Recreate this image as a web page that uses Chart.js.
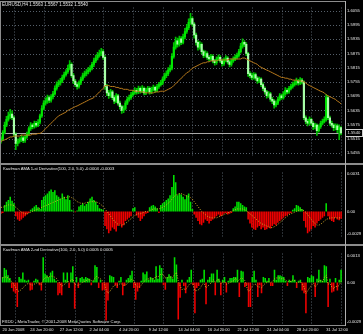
<!DOCTYPE html>
<html><head><meta charset="utf-8">
<script src="https://cdn.jsdelivr.net/npm/chart.js@4.4.0/dist/chart.umd.min.js"></script>
<style>
html,body{margin:0;padding:0;background:#000;}
#wrap{position:relative;width:363px;height:334px;background:#000;overflow:hidden;}
canvas{position:absolute;left:0;}
.t{position:absolute;color:#e6e6e6;font-family:"Liberation Sans",Arial,sans-serif;white-space:nowrap;line-height:1;}
.ln{position:absolute;background:#8c8c8c;}
</style></head><body>
<div id="wrap">
<canvas id="c1" style="top:0;width:363px;height:163px" width="363" height="163"></canvas>
<canvas id="c2" style="top:165px;width:363px;height:79px" width="363" height="79"></canvas>
<canvas id="c3" style="top:246px;width:363px;height:88px" width="363" height="88"></canvas>
<div class="ln" style="left:0;top:1px;width:345px;height:1px"></div>
<div class="ln" style="left:0;top:1px;width:1px;height:325px"></div>
<div class="ln" style="left:0;top:163px;width:363px;height:2px"></div>
<div class="ln" style="left:0;top:244px;width:363px;height:2px"></div>
<div class="ln" style="left:0;top:325px;width:346px;height:1px"></div>
<div class="ln" style="left:345px;top:1px;width:1px;height:325px;background:#b0b0b0"></div>
<div class="t" style="left:2px;top:2.5px;font-size:4.5px">EURUSD,H4 1.5563 1.5567 1.5532 1.5540</div>
<div class="t" style="left:3px;top:166.5px;font-size:4.2px">Kaufman AMA 1-st Derivative(100, 2.0, 5.0) -0.0004 -0.0003</div>
<div class="t" style="left:3px;top:248px;font-size:4.2px">Kaufman AMA 2-nd Derivative(100, 2.0, 5.0) 0.0005 0.0005</div>
<div class="t" style="left:2px;top:319.5px;font-size:4.3px">FXDD - MetaTrader, © 2001-2008 MetaQuotes Software Corp.</div>
</div>
<script>
// ---------- data ----------
const TIME_LABELS = ['20 Jun 2008','24 Jun 20:00','27 Jun 12:00','2 Jul 04:00','4 Jul 20:00','9 Jul 12:00','14 Jul 04:00','16 Jul 20:00','21 Jul 12:00','24 Jul 04:00','28 Jul 20:00','31 Jul 12:00'];
const TIME_IDX = [0,15,31,47,63,79,95,111,127,143,159,175];
const GRID_IDX = [7,23,39,55,71,87,103,119,135,151,167,183];
const PRICE_TICKS = [1.5455,1.5515,1.5575,1.5635,1.5695,1.5755,1.5815,1.5875,1.5935,1.5995,1.6055];
const CUR_PRICE = 1.5540;
const P1_TICKS = [0.0046,0,-0.0028];
const P1_TEXT = ['0.0031','0.00','-0.0029'];
const P2_TICKS = [0.0029,0,-0.0044];
const P2_TEXT = ['0.0013','0.00','-0.0029'];

const OPEN = [
1.5508,1.5515,1.5542,1.5573,1.5597,1.5612,1.5620,1.5604,1.5535,1.5496,
1.5504,1.5511,1.5519,1.5508,1.5523,1.5535,1.5558,1.5573,1.5566,1.5581,
1.5573,1.5585,1.5612,1.5643,1.5666,1.5674,1.5689,1.5678,1.5693,1.5705,
1.5728,1.5744,1.5751,1.5759,1.5774,1.5786,1.5798,1.5813,1.5829,1.5782,
1.5759,1.5744,1.5736,1.5751,1.5767,1.5782,1.5790,1.5798,1.5805,1.5813,
1.5829,1.5844,1.5856,1.5867,1.5875,1.5883,1.5859,1.5736,1.5709,1.5697,
1.5713,1.5689,1.5674,1.5697,1.5666,1.5651,1.5635,1.5643,1.5666,1.5682,
1.5689,1.5701,1.5709,1.5720,1.5713,1.5728,1.5716,1.5728,1.5709,1.5720,
1.5728,1.5713,1.5724,1.5732,1.5720,1.5736,1.5744,1.5751,1.5767,1.5782,
1.5790,1.5805,1.5813,1.5863,1.5902,1.5929,1.5914,1.5937,1.5922,1.5945,
1.5968,1.5984,1.6007,1.6022,1.5999,1.5953,1.5922,1.5902,1.5914,1.5883,
1.5867,1.5875,1.5859,1.5852,1.5863,1.5844,1.5836,1.5852,1.5859,1.5844,
1.5832,1.5848,1.5856,1.5840,1.5829,1.5844,1.5852,1.5859,1.5867,1.5883,
1.5906,1.5922,1.5914,1.5875,1.5790,1.5782,1.5774,1.5786,1.5771,1.5759,
1.5767,1.5744,1.5728,1.5713,1.5697,1.5705,1.5682,1.5674,1.5658,1.5666,
1.5682,1.5697,1.5689,1.5705,1.5720,1.5713,1.5728,1.5736,1.5744,1.5751,
1.5759,1.5751,1.5763,1.5755,1.5604,1.5589,1.5581,1.5597,1.5581,1.5566,
1.5573,1.5550,1.5566,1.5581,1.5589,1.5597,1.5689,1.5604,1.5581,1.5573,
1.5562,1.5570,1.5554,1.5563];
const HIGH = [
1.5524,1.5550,1.5586,1.5610,1.5628,1.5640,1.5633,1.5611,1.5541,1.5515,
1.5520,1.5531,1.5526,1.5530,1.5544,1.5566,1.5584,1.5580,1.5590,1.5589,
1.5596,1.5620,1.5655,1.5677,1.5688,1.5700,1.5697,1.5702,1.5716,1.5739,
1.5756,1.5763,1.5770,1.5784,1.5797,1.5807,1.5826,1.5845,1.5836,1.5790,
1.5766,1.5752,1.5760,1.5776,1.5793,1.5801,1.5808,1.5817,1.5824,1.5838,
1.5856,1.5868,1.5880,1.5889,1.5897,1.5892,1.5866,1.5745,1.5720,1.5724,
1.5720,1.5698,1.5706,1.5703,1.5674,1.5658,1.5654,1.5675,1.5691,1.5700,
1.5711,1.5720,1.5731,1.5728,1.5738,1.5735,1.5740,1.5734,1.5729,1.5737,
1.5734,1.5733,1.5742,1.5738,1.5745,1.5754,1.5762,1.5777,1.5793,1.5802,
1.5816,1.5826,1.5875,1.5921,1.5944,1.5940,1.5949,1.5946,1.5957,1.5981,
1.5998,1.6021,1.6044,1.6030,1.6006,1.5961,1.5930,1.5925,1.5920,1.5890,
1.5886,1.5882,1.5866,1.5872,1.5869,1.5851,1.5861,1.5870,1.5866,1.5850,
1.5857,1.5866,1.5862,1.5846,1.5853,1.5861,1.5870,1.5877,1.5893,1.5918,
1.5937,1.5930,1.5921,1.5880,1.5799,1.5792,1.5795,1.5793,1.5778,1.5776,
1.5773,1.5751,1.5735,1.5720,1.5715,1.5711,1.5690,1.5681,1.5676,1.5691,
1.5706,1.5704,1.5714,1.5731,1.5727,1.5737,1.5746,1.5755,1.5762,1.5771,
1.5766,1.5774,1.5770,1.5760,1.5612,1.5598,1.5608,1.5603,1.5588,1.5582,
1.5579,1.5574,1.5590,1.5598,1.5608,1.5702,1.5694,1.5611,1.5590,1.5580,
1.5578,1.5577,1.5574,1.5567];
const LOW = [
1.5497,1.5509,1.5536,1.5566,1.5590,1.5601,1.5596,1.5524,1.5470,1.5485,
1.5497,1.5503,1.5499,1.5500,1.5517,1.5529,1.5551,1.5557,1.5560,1.5564,
1.5566,1.5578,1.5606,1.5637,1.5657,1.5665,1.5668,1.5670,1.5684,1.5699,
1.5720,1.5735,1.5742,1.5752,1.5766,1.5779,1.5791,1.5806,1.5774,1.5748,
1.5735,1.5725,1.5729,1.5744,1.5760,1.5774,1.5781,1.5789,1.5797,1.5806,
1.5820,1.5836,1.5848,1.5860,1.5866,1.5850,1.5724,1.5697,1.5686,1.5690,
1.5680,1.5663,1.5668,1.5657,1.5640,1.5622,1.5626,1.5637,1.5659,1.5674,
1.5681,1.5694,1.5702,1.5704,1.5706,1.5708,1.5710,1.5700,1.5701,1.5713,
1.5704,1.5706,1.5717,1.5711,1.5714,1.5728,1.5737,1.5744,1.5760,1.5773,
1.5782,1.5797,1.5806,1.5855,1.5893,1.5902,1.5906,1.5912,1.5915,1.5937,
1.5960,1.5976,1.5998,1.5990,1.5940,1.5910,1.5889,1.5893,1.5873,1.5857,
1.5860,1.5850,1.5843,1.5845,1.5835,1.5826,1.5829,1.5845,1.5836,1.5822,
1.5825,1.5840,1.5831,1.5818,1.5822,1.5837,1.5845,1.5852,1.5860,1.5876,
1.5898,1.5904,1.5866,1.5778,1.5772,1.5765,1.5767,1.5762,1.5749,1.5752,
1.5735,1.5718,1.5704,1.5687,1.5690,1.5673,1.5664,1.5645,1.5650,1.5659,
1.5675,1.5681,1.5682,1.5698,1.5705,1.5707,1.5721,1.5729,1.5737,1.5743,
1.5742,1.5744,1.5747,1.5596,1.5578,1.5570,1.5575,1.5572,1.5554,1.5557,
1.5530,1.5543,1.5559,1.5574,1.5582,1.5590,1.5596,1.5572,1.5564,1.5550,
1.5553,1.5541,1.5512,1.5532];
const CLOSE = [
1.5515,1.5542,1.5573,1.5597,1.5612,1.5620,1.5604,1.5535,1.5496,1.5504,
1.5511,1.5519,1.5508,1.5523,1.5535,1.5558,1.5573,1.5566,1.5581,1.5573,
1.5585,1.5612,1.5643,1.5666,1.5674,1.5689,1.5678,1.5693,1.5705,1.5728,
1.5744,1.5751,1.5759,1.5774,1.5786,1.5798,1.5813,1.5829,1.5782,1.5759,
1.5744,1.5736,1.5751,1.5767,1.5782,1.5790,1.5798,1.5805,1.5813,1.5829,
1.5844,1.5856,1.5867,1.5875,1.5883,1.5859,1.5736,1.5709,1.5697,1.5713,
1.5689,1.5674,1.5697,1.5666,1.5651,1.5635,1.5643,1.5666,1.5682,1.5689,
1.5701,1.5709,1.5720,1.5713,1.5728,1.5716,1.5728,1.5709,1.5720,1.5728,
1.5713,1.5724,1.5732,1.5720,1.5736,1.5744,1.5751,1.5767,1.5782,1.5790,
1.5805,1.5813,1.5863,1.5902,1.5929,1.5914,1.5937,1.5922,1.5945,1.5968,
1.5984,1.6007,1.6022,1.5999,1.5953,1.5922,1.5902,1.5914,1.5883,1.5867,
1.5875,1.5859,1.5852,1.5863,1.5844,1.5836,1.5852,1.5859,1.5844,1.5832,
1.5848,1.5856,1.5840,1.5829,1.5844,1.5852,1.5859,1.5867,1.5883,1.5906,
1.5922,1.5914,1.5875,1.5790,1.5782,1.5774,1.5786,1.5771,1.5759,1.5767,
1.5744,1.5728,1.5713,1.5697,1.5705,1.5682,1.5674,1.5658,1.5666,1.5682,
1.5697,1.5689,1.5705,1.5720,1.5713,1.5728,1.5736,1.5744,1.5751,1.5759,
1.5751,1.5763,1.5755,1.5604,1.5589,1.5581,1.5597,1.5581,1.5566,1.5573,
1.5550,1.5566,1.5581,1.5589,1.5597,1.5689,1.5604,1.5581,1.5573,1.5562,
1.5570,1.5554,1.5563,1.5540];
const AMA = [
1.5504,1.5508,1.5511,1.5515,1.5519,1.5523,1.5523,1.5527,1.5527,
1.5527,1.5527,1.5531,1.5531,1.5531,1.5531,1.5531,1.5531,1.5535,1.5535,1.5535,1.5538,1.5538,1.5542,
1.5550,1.5558,1.5566,1.5573,1.5581,1.5589,1.5597,1.5604,
1.5612,1.5616,1.5620,1.5624,1.5628,1.5635,1.5639,1.5643,1.5647,1.5651,
1.5654,1.5658,1.5662,1.5666,1.5670,1.5674,1.5678,1.5682,1.5685,1.5689,
1.5697,1.5705,1.5713,1.5720,1.5728,1.5740,
1.5740,1.5740,1.5736,1.5736,1.5736,1.5732,1.5732,1.5728,
1.5728,1.5724,1.5724,1.5724,1.5720,1.5720,1.5720,1.5716,
1.5716,1.5716,1.5713,1.5713,1.5713,1.5709,1.5709,1.5709,
1.5709,1.5709,1.5713,1.5713,1.5713,1.5716,1.5716,1.5716,
1.5720,1.5724,1.5728,1.5732,1.5740,1.5747,1.5755,
1.5763,1.5771,1.5778,1.5786,1.5794,1.5798,1.5805,1.5813,1.5817,
1.5821,1.5825,1.5829,1.5833,1.5836,1.5836,1.5840,1.5840,
1.5844,1.5844,1.5844,1.5844,1.5848,1.5848,1.5848,1.5848,1.5848,1.5848,1.5852,1.5852,
1.5852,1.5852,1.5852,1.5852,1.5852,1.5856,1.5856,1.5852,1.5848,
1.5844,1.5840,1.5836,1.5833,1.5829,1.5821,1.5817,1.5813,1.5809,
1.5805,1.5802,1.5798,1.5794,1.5790,1.5786,1.5782,1.5778,
1.5774,1.5774,1.5771,1.5771,1.5767,1.5767,1.5763,1.5763,
1.5763,1.5759,1.5759,1.5759,1.5755,1.5751,1.5744,
1.5740,1.5736,1.5732,1.5728,1.5724,1.5720,1.5716,1.5713,1.5709,
1.5701,1.5697,1.5693,1.5689,1.5685,1.5682,1.5674,1.5670,1.5662];
const D1 = [
-0.0003,-0.0002,0.0008,0.0012,0.0014,0.0018,0.0013,0.0010,
-0.0006,-0.0010,-0.0012,-0.0010,-0.0008,-0.0006,-0.0004,-0.0002,
0.0002,0.0004,0.0006,0.0008,0.0005,0.0003,
0.0014,0.0018,0.0020,0.0022,0.0025,0.0027,0.0024,0.0026,0.0020,0.0018,0.0016,0.0022,0.0018,0.0015,0.0020,0.0014,
0.0002,0.0001,-0.0001,0.0001,
0.0006,0.0008,0.0010,0.0007,0.0009,0.0012,0.0016,0.0018,0.0014,0.0012,0.0008,
0.0004,0.0003,0.0002,
-0.0018,-0.0022,-0.0027,-0.0024,-0.0020,-0.0022,-0.0025,-0.0018,-0.0016,-0.0020,-0.0017,-0.0012,-0.0010,-0.0008,-0.0006,
0.0004,0.0005,
-0.0005,-0.0008,-0.0012,-0.0009,-0.0006,-0.0003,
-0.0002,
0.0005,0.0007,0.0008,0.0006,0.0004,
-0.0002,
0.0008,0.0010,0.0012,0.0014,0.0016,0.0020,0.0030,0.0045,
0.0036,0.0020,0.0022,0.0021,0.0018,0.0015,0.0020,0.0022,0.0012,
0.0003,
-0.0004,-0.0008,-0.0012,-0.0016,-0.0017,-0.0014,-0.0010,-0.0012,-0.0015,-0.0012,-0.0010,-0.0008,-0.0006,
-0.0004,-0.0006,-0.0005,-0.0003,-0.0002,-0.0004,-0.0003,-0.0002,
0.0004,0.0006,0.0012,0.0012,0.0010,0.0008,0.0006,0.0005,
-0.0010,-0.0015,-0.0020,-0.0022,-0.0023,-0.0020,-0.0018,-0.0022,-0.0020,-0.0023,-0.0022,-0.0020,-0.0021,-0.0018,-0.0016,-0.0017,-0.0014,-0.0012,-0.0010,-0.0008,-0.0006,-0.0005,-0.0003,-0.0002,
0.0002,0.0004,0.0008,0.0007,0.0005,0.0003,
-0.0012,-0.0020,-0.0027,-0.0025,-0.0022,-0.0018,-0.0020,-0.0015,-0.0012,-0.0010,-0.0008,-0.0006,
0.0010,
-0.0006,-0.0010,-0.0012,-0.0013,-0.0008,-0.0010,-0.0011,-0.0009];
const S1 = [
0.0005,0.0005,0.0006,0.0007,0.0008,0.0008,0.0008,0.0007,
0.0005,0.0003,0.0001,-0.0001,-0.0002,-0.0003,-0.0003,-0.0002,
-0.0001,0,0.0001,0.0002,0.0003,0.0004,
0.0005,0.0006,0.0007,0.0008,0.0009,0.0010,0.0011,0.0012,0.0013,0.0014,0.0015,0.0016,0.0017,0.0017,0.0018,0.0018,
0.0017,0.0016,0.0014,0.0012,
0.0011,0.0010,0.0010,0.0010,0.0011,0.0011,0.0012,0.0012,0.0012,0.0012,0.0011,
0.0010,0.0008,0.0006,
0.0003,0,-0.0003,-0.0006,-0.0009,-0.0012,-0.0014,-0.0016,-0.0017,-0.0017,-0.0016,-0.0015,-0.0013,-0.0011,-0.0009,
-0.0007,-0.0005,
-0.0004,-0.0003,-0.0003,-0.0002,-0.0001,0,
0,
0.0001,0.0002,0.0003,0.0003,0.0003,
0.0003,
0.0004,0.0005,0.0006,0.0008,0.0010,0.0012,0.0015,0.0018,
0.0020,0.0021,0.0022,0.0022,0.0021,0.0020,0.0019,0.0018,0.0017,
0.0015,
0.0012,0.0009,0.0006,0.0003,0,-0.0002,-0.0004,-0.0006,-0.0007,-0.0008,-0.0008,-0.0008,-0.0008,
-0.0007,-0.0006,-0.0005,-0.0004,-0.0003,-0.0002,-0.0001,0,
0.0001,0.0002,0.0003,0.0003,0.0003,0.0003,0.0002,0.0001,
-0.0001,-0.0003,-0.0005,-0.0007,-0.0009,-0.0011,-0.0013,-0.0015,-0.0016,-0.0017,-0.0018,-0.0019,-0.0020,-0.0020,-0.0019,-0.0018,-0.0016,-0.0014,-0.0012,-0.0010,-0.0008,-0.0006,-0.0004,-0.0003,
-0.0002,-0.0001,0,0.0001,0.0002,0.0002,
0.0001,-0.0001,-0.0004,-0.0007,-0.0010,-0.0013,-0.0015,-0.0017,-0.0017,-0.0016,-0.0014,-0.0012,
-0.0010,
-0.0009,-0.0008,-0.0008,-0.0008,-0.0008,-0.0008,-0.0008,-0.0008];
const D2 = [
0.0006,0.0016,0.0014,0.0008,0.0005,-0.0006,-0.0010,-0.0012,-0.0027,0.0006,
0.0004,0.0011,0.0003,0.0002,0.0003,-0.0009,-0.0008,0.0002,0.0004,0.0003,
-0.0003,-0.0009,0.0028,0.0010,0.0008,0.0006,0.0011,0.0013,0.0004,0.0002,
-0.0014,-0.0012,-0.0014,0.0011,0.0003,0.0011,-0.0006,0.0011,0.0018,-0.0029,
0.0006,-0.0006,0.0005,0.0006,0.0004,0.0006,0.0005,0.0004,-0.0003,0.0002,
0.0019,0.0017,-0.0006,0.0003,-0.0009,-0.0008,-0.0042,-0.0020,0.0008,0.0007,
0.0006,-0.0003,-0.0006,0.0002,0.0006,-0.0014,-0.0004,0.0003,0.0005,0.0008,
0.0013,-0.0006,-0.0019,-0.0010,-0.0006,0.0002,0.0011,0.0009,0.0012,0.0003,
0.0006,0.0005,0.0003,0.0018,0.0004,0.0019,0.0016,-0.0003,-0.0008,0.0006,
0.0009,0.0007,0.0004,0.0028,0.0020,-0.0041,-0.0017,0.0003,-0.0004,-0.0012,
0.0003,0.0006,0.0014,-0.0003,-0.0034,-0.0006,-0.0004,0.0003,0.0004,0.0014,
-0.0024,0.0003,0.0006,0.0010,0.0010,-0.0014,0.0014,0.0004,-0.0014,0.0003,
0.0006,-0.0011,0.0002,0.0005,0.0005,0.0006,0.0006,0.0014,-0.0016,0.0013,
0.0012,-0.0005,-0.0003,-0.0027,-0.0027,0.0006,0.0013,0.0003,-0.0016,-0.0003,
-0.0012,0.0006,0.0005,0.0002,0.0005,-0.0004,-0.0004,0.0014,0.0003,0.0008,
0.0008,0.0007,0.0006,0.0002,-0.0004,0.0003,0.0002,0.0008,0.0003,-0.0006,
0.0002,0.0003,-0.0009,-0.0012,-0.0034,0.0006,0.0005,0.0008,0.0007,-0.0016,
0.0004,0.0014,0.0003,0.0002,0.0019,0.0018,-0.0027,0.0004,-0.0011,-0.0010,
0.0005,-0.0009,0.0003,0.0014];
const S2 = [
0.0005,0.0006,0.0006,0.0005,0.0003,0.0001,-0.0002,-0.0005,-0.0009,-0.0010,-0.0008,
-0.0006,-0.0004,-0.0002,-0.0001,-0.0002,-0.0003,-0.0002,-0.0001,0,-0.0001,-0.0002,
0.0003,0.0005,0.0006,0.0006,0.0007,0.0007,0.0006,0.0005,
0.0002,-0.0001,-0.0004,-0.0003,-0.0001,0.0001,0.0001,0.0002,
0.0004,-0.0002,-0.0003,-0.0003,-0.0002,0,0.0001,0.0002,0.0003,0.0003,0.0002,0.0002,
0.0005,0.0007,0.0005,0.0004,0.0002,0,-0.0008,-0.0012,
-0.0010,-0.0007,-0.0004,-0.0003,-0.0003,-0.0002,-0.0001,-0.0003,-0.0003,-0.0002,0,0.0002,
0.0004,0.0002,-0.0003,-0.0005,-0.0005,-0.0003,0,0.0002,0.0004,0.0004,
0.0004,0.0004,0.0004,0.0007,0.0006,0.0008,0.0010,0.0008,0.0005,0.0005,0.0006,0.0006,0.0005,0.0009,0.0011,
0.0002,-0.0004,-0.0008,-0.0007,-0.0008,-0.0005,-0.0002,-0.0001,-0.0002,-0.0009,-0.0009,-0.0008,-0.0006,
-0.0002,-0.0001,-0.0006,-0.0004,-0.0002,0,0.0003,0,0.0003,0.0003,-0.0001,0,
0.0001,-0.0002,-0.0001,0,0.0001,0.0002,0.0005,0.0001,0.0003,0.0005,0.0004,0.0002,-0.0005,-0.0010,
-0.0008,-0.0004,-0.0002,-0.0002,-0.0005,-0.0005,-0.0006,-0.0003,-0.0001,0,0.0001,0,0.0001,0.0004,0.0005,0.0005,
0.0005,0.0004,0.0004,0.0003,0.0001,0.0001,0.0001,0.0003,0.0002,0,0,0.0001,-0.0002,-0.0005,
-0.0012,-0.0009,-0.0006,-0.0003,-0.0001,-0.0005,-0.0003,0.0002,0.0002,0.0001,0.0006,0.0008,-0.0002,-0.0001,-0.0005,-0.0007,-0.0004,-0.0005,-0.0003,0.0001];

// ---------- helpers ----------
const BARS = CLOSE.map((_, i) => i);
const FONT = {family: '"Liberation Sans", Arial, sans-serif', size: 4.2};
const TXT = '#e6e6e6';

const mtGrid = {
  id: 'mtGrid',
  beforeDatasetsDraw(chart, args, opts) {
    const {ctx, chartArea: a, scales} = chart;
    ctx.save();
    ctx.strokeStyle = '#56606a';
    ctx.lineWidth = 1;
    ctx.setLineDash([1, 2]);
    GRID_IDX.forEach(i => {
      const x = Math.round(scales.x.getPixelForValue(i)) + 0.5;
      ctx.beginPath(); ctx.moveTo(x, a.top); ctx.lineTo(x, a.bottom); ctx.stroke();
    });
    (opts.hTicks || []).forEach(v => {
      const y = Math.round(scales.y.getPixelForValue(v)) + 0.5;
      ctx.beginPath(); ctx.moveTo(a.left, y); ctx.lineTo(a.right, y); ctx.stroke();
    });
    ctx.setLineDash([]);
    if (opts.bid !== undefined) {
      const y = Math.round(scales.y.getPixelForValue(opts.bid)) + 0.5;
      ctx.strokeStyle = '#a8a8a8';
      ctx.beginPath(); ctx.moveTo(a.left, y); ctx.lineTo(a.right, y); ctx.stroke();
    }
    ctx.restore();
  },
  afterDraw(chart, args, opts) {
    if (opts.bid === undefined) return;
    const {ctx, scales} = chart;
    const y = Math.round(scales.y.getPixelForValue(opts.bid));
    ctx.save();
    ctx.fillStyle = '#000';
    ctx.fillRect(345.5, y - 4, 17, 8);
    ctx.strokeStyle = '#d0d0d0';
    ctx.lineWidth = 1;
    ctx.strokeRect(345.5, y - 3.5, 17, 7);
    ctx.fillStyle = TXT;
    ctx.font = '4.2px "Liberation Sans", Arial, sans-serif';
    ctx.textBaseline = 'middle';
    ctx.fillText(opts.bid.toFixed(4), 347.5, y + 0.3);
    ctx.restore();
  }
};

function yAxis(min, max, tickVals, fmt) {
  return {
    position: 'right', min, max,
    afterFit: s => { s.width = 21; },
    afterBuildTicks: s => { s.ticks = tickVals.map(v => ({value: v})); },
    grid: {display: false, drawTicks: false},
    border: {display: false},
    ticks: {color: TXT, font: FONT, padding: 5, autoSkip: false, callback: fmt}
  };
}
function xAxis(show) {
  if (!show) return {display: false, offset: true};
  return {
    offset: true,
    afterFit: s => { s.height = 9; },
    afterBuildTicks: s => { s.ticks = TIME_IDX.map(v => ({value: v})); },
    grid: {display: false, drawTicks: false},
    border: {display: false},
    ticks: {color: TXT, font: {family: FONT.family, size: 4}, padding: 2.5, autoSkip: false, maxRotation: 0, align: 'start',
      callback: (v, i) => TIME_LABELS[i]}
  };
}
const base = {
  responsive: false, animation: false, events: [],
  layout: {autoPadding: false, padding: {left: 0, right: 0, top: 0, bottom: 0}},
  plugins: {legend: {display: false}, tooltip: {enabled: false}}
};

// ---------- main price chart ----------
new Chart(document.getElementById('c1'), {
  type: 'bar',
  data: {labels: BARS, datasets: [
    {type: 'line', data: AMA, borderColor: '#b87a1c', borderWidth: 1, pointRadius: 0, tension: 0, order: 0},
    {data: CLOSE.map((c, i) => [OPEN[i], c]), grouped: false, barThickness: 1.5, borderWidth: 0, order: 1,
      backgroundColor: ctx => CLOSE[ctx.dataIndex] >= OPEN[ctx.dataIndex] ? '#00e800' : '#a8ffa8'},
    {data: HIGH.map((h, i) => [LOW[i], h]), grouped: false, barThickness: 1, borderWidth: 0, order: 2,
      backgroundColor: '#00c000'}
  ]},
  options: Object.assign({}, base, {
    layout: {autoPadding: false, padding: {left: 0, right: 0, top: 2, bottom: 0}},
    scales: {x: xAxis(false), y: yAxis(1.5445, 1.6069, PRICE_TICKS, v => Number(v).toFixed(4))},
    plugins: Object.assign({}, base.plugins, {mtGrid: {hTicks: PRICE_TICKS, bid: CUR_PRICE}})
  }),
  plugins: [mtGrid]
});

// ---------- indicator panels ----------
function panel(id, hist, sig, min, max, tv, tt, showX) {
  new Chart(document.getElementById(id), {
    type: 'bar',
    data: {labels: BARS, datasets: [
      {type: 'line', data: sig, borderColor: '#d0a828', borderWidth: 1, borderDash: [1, 1.5], pointRadius: 0, tension: 0, order: 0},
      {data: hist, barPercentage: 0.85, categoryPercentage: 1, borderWidth: 0, order: 1,
        backgroundColor: ctx => hist[ctx.dataIndex] >= 0 ? '#00e000' : '#f00000'}
    ]},
    options: Object.assign({}, base, {
      scales: {x: xAxis(showX), y: yAxis(min, max, tv, (v, i) => tt[i])},
      plugins: Object.assign({}, base.plugins, {mtGrid: {}})
    }),
    plugins: [mtGrid]
  });
}
panel('c2', D1, S1, -0.0031, 0.0048, P1_TICKS, P1_TEXT, false);
panel('c3', D2, S2, -0.0047, 0.0032, P2_TICKS, P2_TEXT, true);
</script>
</body></html>
